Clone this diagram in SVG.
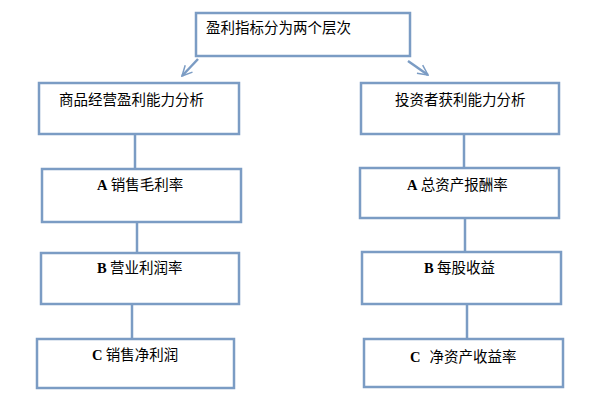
<svg xmlns="http://www.w3.org/2000/svg" width="598" height="410" viewBox="0 0 598 410">
<style>
.box{fill:#fff;stroke:#7b9cc4;stroke-width:2.5}
.ln{fill:none;stroke:#7b9cc4;stroke-width:2.5}
.t{font-family:"Noto Sans CJK SC","Noto Sans",sans-serif;font-size:14.5px;fill:#000}
.l{font-family:"Liberation Serif",serif;font-weight:bold;font-size:14.5px}
</style>
<defs>
<marker id="ah" viewBox="0 0 10 10" refX="9" refY="5" markerWidth="5" markerHeight="5" orient="auto" markerUnits="strokeWidth">
<path d="M1,1 L9,5 L1,9" fill="none" stroke="#7b9cc4" stroke-width="1.2"/>
</marker>
</defs>
<rect width="598" height="410" fill="#fff"/>
<g id="connectors">
<line class="ln" x1="198" y1="59" x2="182" y2="76" marker-end="url(#ah)"/>
<line class="ln" x1="408" y1="61" x2="428" y2="75" marker-end="url(#ah)"/>
<line class="ln" x1="135" y1="134" x2="135" y2="169"/>
<line class="ln" x1="137" y1="222" x2="137" y2="253"/>
<line class="ln" x1="132" y1="302" x2="132" y2="339"/>
<line class="ln" x1="464" y1="134" x2="464" y2="168"/>
<line class="ln" x1="465" y1="218" x2="465" y2="252"/>
<line class="ln" x1="467" y1="304" x2="467" y2="339"/>
</g>
<g id="root">
<rect class="box" x="196" y="13" width="214" height="43"/>
<text class="t" x="206" y="33">盈利指标分为两个层次</text>
</g>
<g id="left1">
<rect class="box" x="39" y="83" width="200" height="51"/>
<text class="t" x="59" y="105">商品经营盈利能力分析</text>
</g>
<g id="leftA">
<rect class="box" x="42" y="169" width="199" height="53"/>
<text class="t" x="97" y="190"><tspan class="l">A</tspan> 销售毛利率</text>
</g>
<g id="leftB">
<rect class="box" x="41" y="253" width="198" height="51"/>
<text class="t" x="97" y="273"><tspan class="l">B</tspan> 营业利润率</text>
</g>
<g id="leftC">
<rect class="box" x="37" y="339" width="197" height="49"/>
<text class="t" x="92" y="360"><tspan class="l">C</tspan> 销售净利润</text>
</g>
<g id="right1">
<rect class="box" x="361" y="83" width="198" height="51"/>
<text class="t" x="395" y="105">投资者获利能力分析</text>
</g>
<g id="rightA">
<rect class="box" x="360" y="168" width="199" height="50"/>
<text class="t" x="407" y="190"><tspan class="l">A</tspan> 总资产报酬率</text>
</g>
<g id="rightB">
<rect class="box" x="362" y="252" width="199" height="52"/>
<text class="t" x="424" y="273"><tspan class="l">B</tspan> 每股收益</text>
</g>
<g id="rightC">
<rect class="box" x="364" y="339" width="199" height="48"/>
<text class="t" x="410" y="362"><tspan class="l">C</tspan><tspan dx="9">净资产收益率</tspan></text>
</g>
</svg>
